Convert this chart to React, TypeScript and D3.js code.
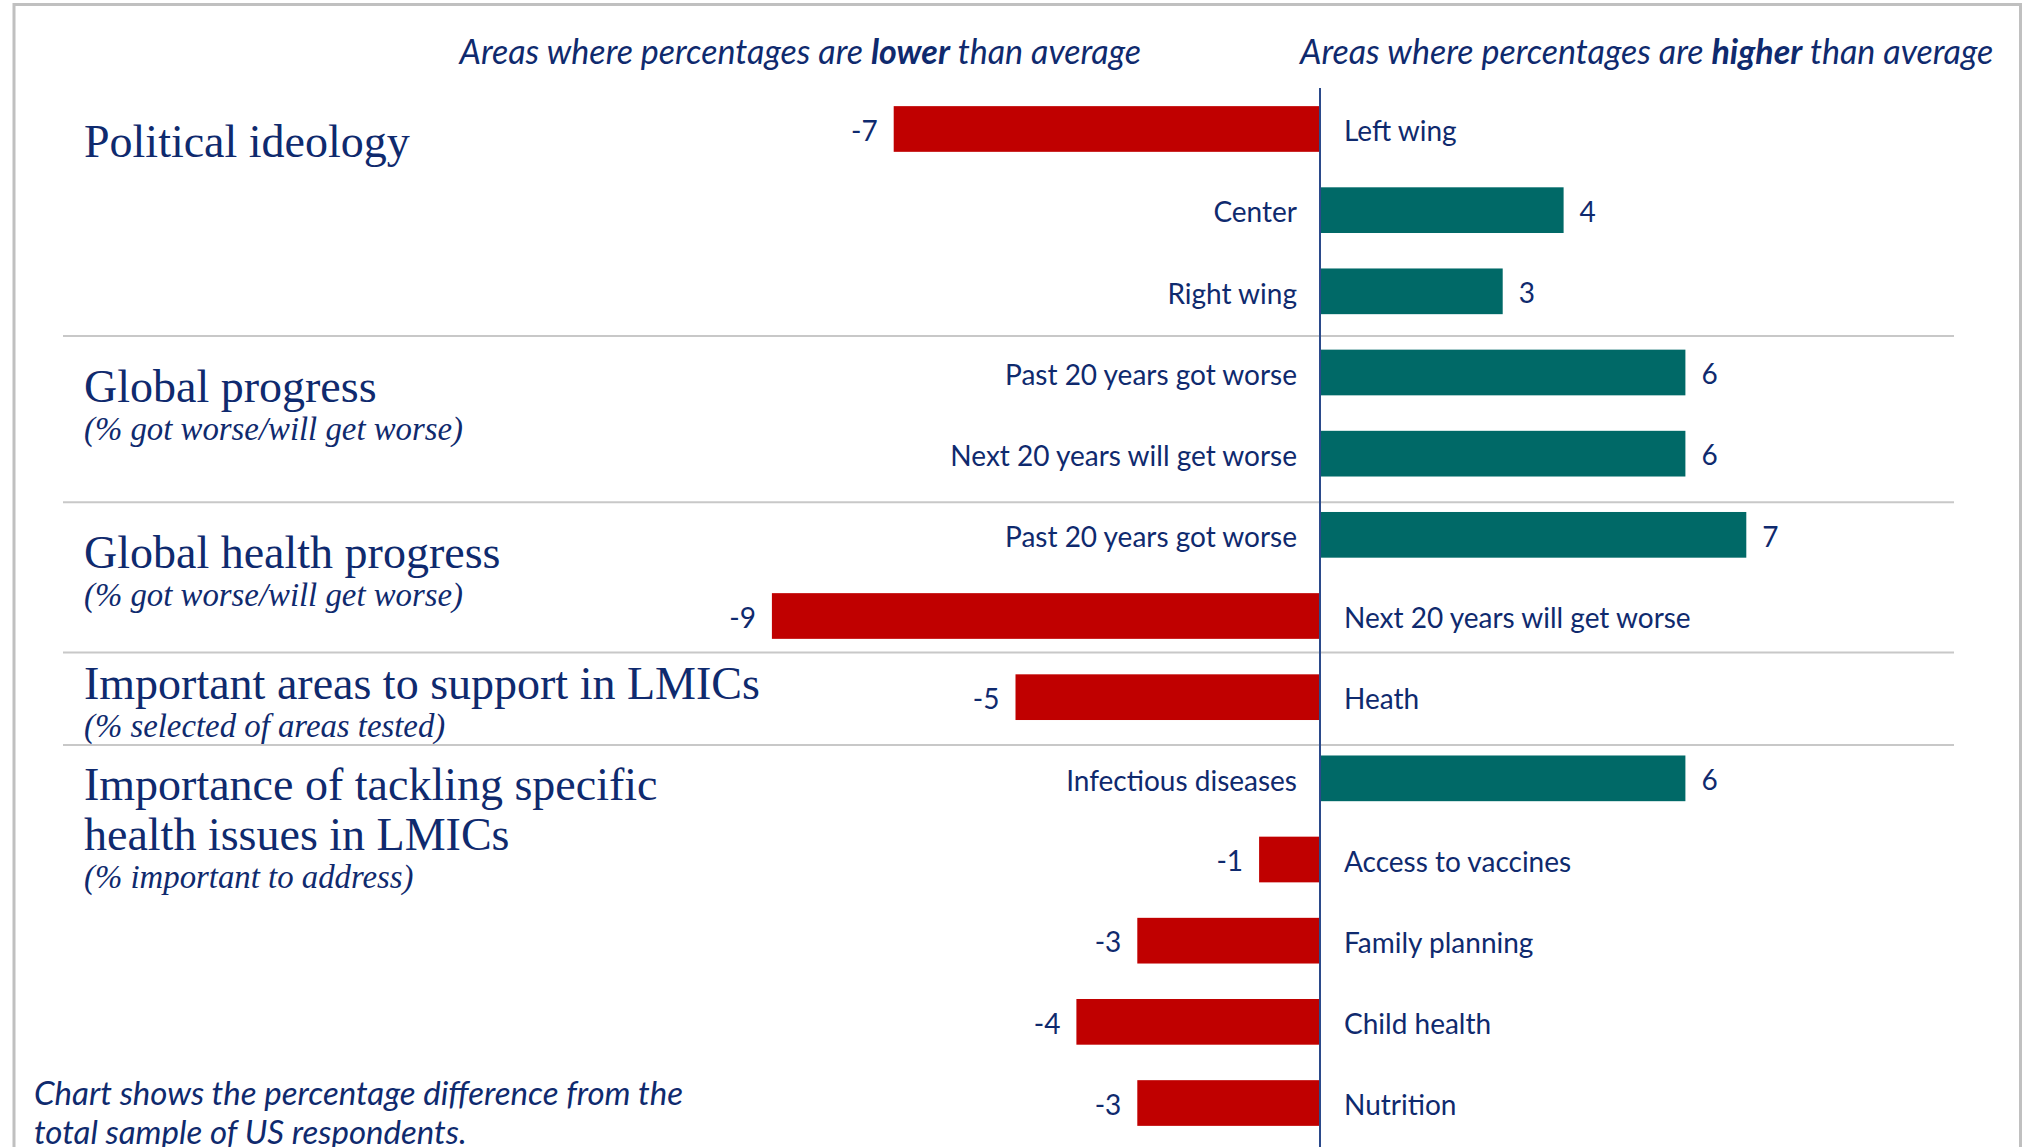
import React from "react";
import * as d3 from "d3";

// ---- Data ----
const rowLabels = [
  "Left wing",
  "Center",
  "Right wing",
  "Past 20 years got worse",
  "Next 20 years will get worse",
  "Past 20 years got worse",
  "Next 20 years will get worse",
  "Heath",
  "Infectious diseases",
  "Access to vaccines",
  "Family planning",
  "Child health",
  "Nutrition",
];
const rowValues = [-7, 4, 3, 6, 6, 7, -9, -5, 6, -1, -3, -4, -3];

const groupTitles = [
  ["Political ideology"],
  ["Global progress"],
  ["Global health progress"],
  ["Important areas to support in LMICs"],
  ["Importance of tackling specific", "health issues in LMICs"],
];
const groupSubtitles = [
  "",
  "(% got worse/will get worse)",
  "(% got worse/will get worse)",
  "(% selected of areas tested)",
  "(% important to address)",
];
// title anchor, in row units on the category scale
const groupTitleRow = [0.345, 3.36, 5.41, 7.02, 8.27];
// separators between groups, in row units on the category scale
const separatorRows = [2.55, 4.6, 6.45, 7.59];

const headerLower = ["Areas where percentages are ", "lower", " than average"];
const headerHigher = ["Areas where percentages are ", "higher", " than average"];
const footnote = [
  "Chart shows the percentage difference from the",
  "total sample of US respondents.",
];

// ---- Styles ----
const W = 2029;
const H = 1147;
const NAVY = "#0f2a6e";
const RED = "#C00000";
const TEAL = "#006967";
const AXIS = "#2b4a8b";
const GRAY = "#c8c8c8";
const SANS = "Lato, 'Segoe UI', 'Open Sans', sans-serif";
const SERIF = "'Liberation Serif', 'Times New Roman', serif";

export default function App() {
  const zeroX = 1320;
  const unit = 60.9;
  const x = d3
    .scaleLinear()
    .domain([-9, 7])
    .range([zeroX - 9 * unit, zeroX + 7 * unit]);

  const idx = rowValues.map((_, i) => i);
  const y = d3
    .scaleBand<number>()
    .domain(idx)
    .range([88.4, 1143.6])
    .paddingInner(0.437)
    .paddingOuter(0.2185);
  const rowY = (r: number) => (y(0) as number) + y.bandwidth() / 2 + r * y.step();

  const labelSize = 28;

  return (
    <svg
      width={W}
      height={H}
      viewBox={`0 0 ${W} ${H}`}
      style={{ position: "absolute", left: 0, top: 0, background: "#fff" }}
    >
      {/* frame */}
      <rect x={14} y={4.5} width={2006.5} height={1200} fill="none" stroke="#c0c0c0" strokeWidth={3} />

      {/* headers */}
      <text
        x={1141}
        y={64}
        textAnchor="end"
        fontFamily={SANS}
        fontStyle="italic"
        fontSize={34}
        fill={NAVY}
      >
        {headerLower[0]}
        <tspan fontWeight="bold">{headerLower[1]}</tspan>
        {headerLower[2]}
      </text>
      <text
        x={1300}
        y={64}
        textAnchor="start"
        fontFamily={SANS}
        fontStyle="italic"
        fontSize={34}
        fill={NAVY}
      >
        {headerHigher[0]}
        <tspan fontWeight="bold">{headerHigher[1]}</tspan>
        {headerHigher[2]}
      </text>

      {/* separators */}
      {separatorRows.map((r, i) => (
        <line
          key={"sep" + i}
          x1={63}
          x2={1954}
          y1={rowY(r)}
          y2={rowY(r)}
          stroke={GRAY}
          strokeWidth={2}
        />
      ))}

      {/* group titles */}
      {groupTitles.map((lines, g) => {
        const base = rowY(groupTitleRow[g]);
        return (
          <g key={"gt" + g}>
            {lines.map((t, j) => (
              <text
                key={j}
                x={84}
                y={base + j * 50}
                fontFamily={SERIF}
                fontSize={46}
                fill={NAVY}
              >
                {t}
              </text>
            ))}
            {groupSubtitles[g] && (
              <text
                x={84}
                y={base + (lines.length - 1) * 50 + 38}
                fontFamily={SERIF}
                fontStyle="italic"
                fontSize={32.8}
                fill={NAVY}
              >
                {groupSubtitles[g]}
              </text>
            )}
          </g>
        );
      })}

      {/* bars */}
      {rowValues.map((v, i) => (
        <rect
          key={"b" + i}
          x={Math.min(x(0), x(v))}
          y={y(i) as number}
          width={Math.abs(x(v) - x(0))}
          height={y.bandwidth()}
          fill={v < 0 ? RED : TEAL}
        />
      ))}

      {/* zero axis */}
      <line x1={x(0)} x2={x(0)} y1={88} y2={1147} stroke={AXIS} strokeWidth={2} />

      {/* category labels */}
      {rowValues.map((v, i) => (
        <text
          key={"l" + i}
          x={v < 0 ? x(0) + 24 : x(0) - 23}
          y={(y(i) as number) + y.bandwidth() / 2}
          dy="0.44em"
          textAnchor={v < 0 ? "start" : "end"}
          fontFamily={SANS}
          fontSize={labelSize}
          fill={NAVY}
        >
          {rowLabels[i]}
        </text>
      ))}

      {/* value labels */}
      {rowValues.map((v, i) => (
        <text
          key={"v" + i}
          x={v < 0 ? x(v) - 16 : x(v) + 16}
          y={(y(i) as number) + y.bandwidth() / 2}
          dy="0.42em"
          textAnchor={v < 0 ? "end" : "start"}
          fontFamily={SANS}
          fontSize={labelSize}
          fill={NAVY}
        >
          {d3.format("d")(v).replace("−", "-")}
        </text>
      ))}

      {/* footnote */}
      {footnote.map((t, i) => (
        <text
          key={"f" + i}
          x={34}
          y={1105 + i * 39}
          fontFamily={SANS}
          fontStyle="italic"
          fontSize={33}
          fill={NAVY}
        >
          {t}
        </text>
      ))}
    </svg>
  );
}
